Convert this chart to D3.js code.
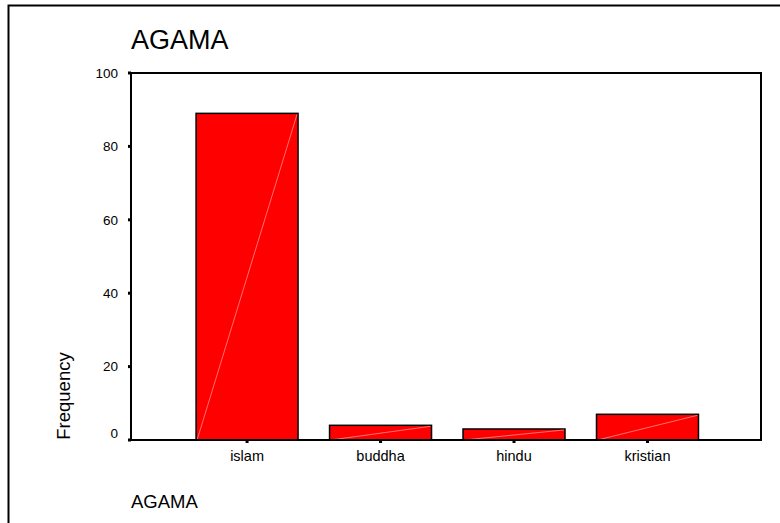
<!DOCTYPE html>
<html>
<head>
<meta charset="utf-8">
<style>
  body { margin: 0; background: #fff; }
  svg { display: block; font-family: Arial, "Liberation Sans", sans-serif; }
</style>
<title>AGAMA</title>
</head>
<body>
<script src="https://cdn.jsdelivr.net/npm/d3@7"></script>
<script>

// data
var categories = ["islam", "buddha", "hindu", "kristian"];
var frequency  = [89, 4, 3, 7];
var yTicks     = [0, 20, 40, 60, 80, 100];

var W = 780, H = 523;
var plot = {left: 131, top: 73, right: 761, bottom: 440};

var svg = d3.select("body").append("svg")
    .attr("width", W)
    .attr("height", H);

svg.append("rect").attr("width", W).attr("height", H).attr("fill", "#fff");

// outer frame (only top and left show)
svg.append("path")
    .attr("d", `M8.5,${H} L8.5,5.5 L${W},5.5`)
    .attr("fill", "none")
    .attr("stroke", "#000")
    .attr("stroke-width", 2);

var x = d3.scaleBand()
    .domain(categories)
    .range([plot.left, plot.right])
    .paddingInner(0.236)
    .paddingOuter(0.478)
    .align(0.51);

var y = d3.scaleLinear()
    .domain([0, 100])
    .range([plot.bottom, plot.top]);

// bars
var bars = svg.selectAll(".bar")
    .data(frequency)
  .enter().append("g")
    .attr("class", "bar");

bars.append("rect")
    .attr("x", (d, i) => x(categories[i]))
    .attr("y", d => y(d))
    .attr("width", x.bandwidth())
    .attr("height", d => y(0) - y(d))
    .attr("fill", "#ff0000")
    .attr("stroke", "#000")
    .attr("stroke-width", 1.5);

// faint diagonal inside each bar
bars.append("line")
    .attr("x1", (d, i) => x(categories[i]) + 1)
    .attr("y1", y(0))
    .attr("x2", (d, i) => x(categories[i]) + x.bandwidth() - 1)
    .attr("y2", d => y(d) + 1)
    .attr("stroke", "#ffa0a0")
    .attr("stroke-width", 0.7);

// plot frame
svg.append("rect")
    .attr("x", plot.left)
    .attr("y", plot.top)
    .attr("width", plot.right - plot.left)
    .attr("height", plot.bottom - plot.top)
    .attr("fill", "none")
    .attr("stroke", "#000")
    .attr("stroke-width", 2);

// y axis ticks + labels
var yAxis = svg.append("g");
yAxis.selectAll("rect")
    .data(yTicks)
  .enter().append("rect")
    .attr("x", plot.left - 3)
    .attr("y", d => y(d) - 1.5)
    .attr("width", 3)
    .attr("height", 3)
    .attr("fill", "#000");
yAxis.selectAll("text")
    .data(yTicks)
  .enter().append("text")
    .attr("x", plot.left - 13)
    .attr("y", d => d === 0 ? y(d) - 7 : y(d))
    .attr("dy", "0.35em")
    .attr("text-anchor", "end")
    .style("font-size", "13.5px")
    .text(d => d);

// x axis ticks + labels
var xAxis = svg.append("g");
xAxis.selectAll("rect")
    .data(categories)
  .enter().append("rect")
    .attr("x", d => x(d) + x.bandwidth() / 2 - 1.5)
    .attr("y", plot.bottom)
    .attr("width", 3)
    .attr("height", 3)
    .attr("fill", "#000");
xAxis.selectAll("text")
    .data(categories)
  .enter().append("text")
    .attr("x", d => x(d) + x.bandwidth() / 2)
    .attr("y", plot.bottom + 20.5)
    .attr("text-anchor", "middle")
    .style("font-size", "14.5px")
    .text(d => d);

// titles
svg.append("text")
    .attr("x", plot.left)
    .attr("y", 49)
    .style("font-size", "27px")
    .text("AGAMA");

svg.append("text")
    .attr("x", plot.left)
    .attr("y", 508)
    .style("font-size", "18.5px")
    .text("AGAMA");

svg.append("text")
    .attr("transform", `translate(70,396) rotate(-90)`)
    .attr("text-anchor", "middle")
    .style("font-size", "18.5px")
    .text("Frequency");

</script>
</body>
</html>
